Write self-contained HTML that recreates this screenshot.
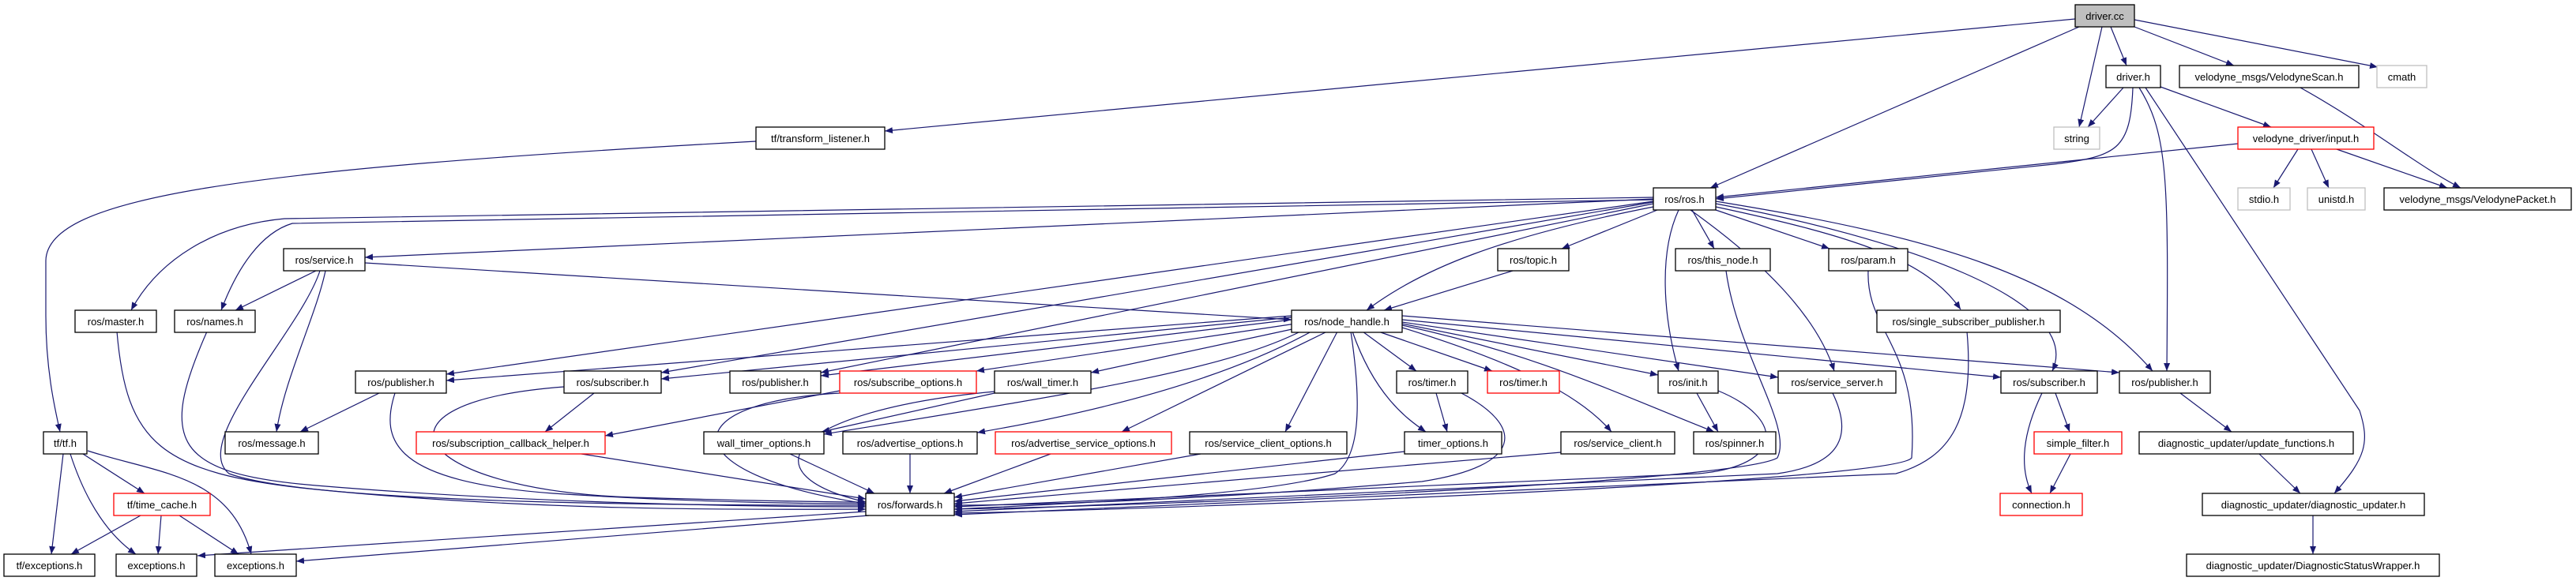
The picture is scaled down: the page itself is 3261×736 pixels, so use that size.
<!DOCTYPE html>
<html><head><meta charset="utf-8"><style>
html,body{margin:0;padding:0;background:#fff;}
svg{display:block;}
text{font-family:"Liberation Sans",sans-serif;font-size:13px;fill:#000;}
.e{fill:none;stroke:#191970;stroke-width:1.2;marker-end:url(#a);}
.n{fill:#fff;stroke:#000;stroke-width:1.3;}
.r{fill:#fff;stroke:#ff0000;stroke-width:1.3;}
.g{fill:#fff;stroke:#bfbfbf;stroke-width:1.3;}
</style></head><body>
<svg width="3261" height="736" viewBox="0 0 3261 736" xmlns="http://www.w3.org/2000/svg">
<defs><marker id="a" markerWidth="10" markerHeight="8" refX="10" refY="4" orient="auto" markerUnits="userSpaceOnUse"><path d="M0,0 L10,4 L0,8 z" fill="#191970"/></marker></defs>
<g>
<path class="e" d="M2627 24 L1120 166"/>
<path class="e" d="M2632 34 L2165 238"/>
<path class="e" d="M2661 34 L2632 161"/>
<path class="e" d="M2672 34 L2692 83"/>
<path class="e" d="M2702 34 L2828 83"/>
<path class="e" d="M2702 25 L3010 85"/>
<path class="e" d="M2688 111 L2643 161"/>
<path class="e" d="M2700 111 C2697 190 2680 198 2600 208 L2172 252"/>
<path class="e" d="M2735 110 L2875 161"/>
<path class="e" d="M2708 111 C2745 170 2745 230 2743 470"/>
<path class="e" d="M2716 111 L2987 520 C3000 560 2995 580 2955 625"/>
<path class="e" d="M2912 111 C3000 160 3060 210 3115 238"/>
<path class="e" d="M2833 182 L2172 250"/>
<path class="e" d="M2909 189 L2878 238"/>
<path class="e" d="M2926 189 L2948 238"/>
<path class="e" d="M2958 189 L3098 238"/>
<path class="e" d="M957 179 C300 215 60 250 58 330 L58 400 C58 470 70 520 76 547"/>
<path class="e" d="M80 575 L65 702"/>
<path class="e" d="M89 575 C110 640 140 680 172 702"/>
<path class="e" d="M105 575 L183 625"/>
<path class="e" d="M111 571 C200 600 290 600 318 702"/>
<path class="e" d="M178 653 L90 702"/>
<path class="e" d="M204 653 L200 702"/>
<path class="e" d="M227 653 L302 702"/>
<path class="e" d="M1096 648 L250 704"/>
<path class="e" d="M1100 653 L375 711"/>
<path class="e" d="M2093 252 L462 326"/>
<path class="e" d="M2093 250 L360 277 C270 285 200 330 166 393"/>
<path class="e" d="M2093 253 L370 283 C330 295 300 340 280 393"/>
<path class="e" d="M2093 255 L565 474"/>
<path class="e" d="M2093 256 L837 472"/>
<path class="e" d="M2093 258 L1039 472"/>
<path class="e" d="M2093 262 C1900 300 1800 340 1730 393"/>
<path class="e" d="M2098 266 L1977 315"/>
<path class="e" d="M2142 266 L2170 315"/>
<path class="e" d="M2125 266 C2100 320 2105 400 2125 470"/>
<path class="e" d="M2140 266 C2230 330 2300 400 2322 470"/>
<path class="e" d="M2172 266 L2316 315"/>
<path class="e" d="M2172 262 C2350 300 2440 330 2482 392"/>
<path class="e" d="M2172 258 C2400 300 2640 380 2598 470"/>
<path class="e" d="M2172 255 C2450 300 2620 350 2725 470"/>
<path class="e" d="M400 343 L298 393"/>
<path class="e" d="M412 343 C400 400 360 480 350 547"/>
<path class="e" d="M405 343 C380 420 240 560 290 600 C400 640 900 640 1096 640"/>
<path class="e" d="M462 333 L1635 405"/>
<path class="e" d="M148 420 C160 560 200 600 400 620 C700 650 1000 645 1096 645"/>
<path class="e" d="M262 420 C200 560 220 600 400 615 C700 640 1000 642 1096 642"/>
<path class="e" d="M1915 343 L1752 393"/>
<path class="e" d="M480 498 L380 547"/>
<path class="e" d="M500 498 C480 560 500 610 700 625 C900 638 1050 638 1096 638"/>
<path class="e" d="M752 498 L690 547"/>
<path class="e" d="M714 490 C450 510 520 620 800 630 C1000 636 1096 636 1096 636"/>
<path class="e" d="M736 575 L1096 632"/>
<path class="e" d="M1635 400 L565 482"/>
<path class="e" d="M1635 402 L837 480"/>
<path class="e" d="M1635 405 L1039 476"/>
<path class="e" d="M1640 410 L1236 470"/>
<path class="e" d="M1645 415 L1381 472"/>
<path class="e" d="M1650 418 C1550 470 1350 500 1043 550"/>
<path class="e" d="M1660 420 C1550 480 1400 520 1237 548"/>
<path class="e" d="M1680 420 L1420 547"/>
<path class="e" d="M1693 420 L1627 547"/>
<path class="e" d="M1710 420 C1725 520 1720 580 1690 600 C1600 630 1300 640 1208 645"/>
<path class="e" d="M1725 420 L1793 470"/>
<path class="e" d="M1745 420 L1889 470"/>
<path class="e" d="M1712 420 C1740 500 1780 530 1805 547"/>
<path class="e" d="M1775 415 C1920 460 2000 500 2040 547"/>
<path class="e" d="M1775 412 C1950 450 2050 500 2170 547"/>
<path class="e" d="M1775 410 L2099 475"/>
<path class="e" d="M1775 408 L2251 478"/>
<path class="e" d="M1775 405 L2533 478"/>
<path class="e" d="M1775 400 L2683 472"/>
<path class="e" d="M1063 495 L766 552"/>
<path class="e" d="M1063 498 C850 510 850 600 1096 638"/>
<path class="e" d="M1259 498 L1040 547"/>
<path class="e" d="M1259 496 C1000 520 940 600 1096 636"/>
<path class="e" d="M1000 575 L1107 625"/>
<path class="e" d="M1152 575 L1152 625"/>
<path class="e" d="M1330 575 L1195 625"/>
<path class="e" d="M1520 575 L1208 630"/>
<path class="e" d="M1818 498 L1832 547"/>
<path class="e" d="M1850 498 C1930 540 1930 590 1800 610 C1500 635 1300 640 1208 640"/>
<path class="e" d="M1778 572 L1208 635"/>
<path class="e" d="M1976 573 L1208 638"/>
<path class="e" d="M2148 498 L2175 547"/>
<path class="e" d="M2175 495 C2260 530 2260 590 2150 600 L1208 642"/>
<path class="e" d="M2185 343 C2200 450 2270 540 2250 580 C2200 610 1500 640 1208 645"/>
<path class="e" d="M2320 498 C2350 560 2320 590 2250 600 L1208 648"/>
<path class="e" d="M2365 343 C2362 420 2430 440 2420 580 C2400 610 1500 645 1208 650"/>
<path class="e" d="M2490 420 C2500 530 2470 580 2400 600 L1208 652"/>
<path class="e" d="M2602 498 L2620 547"/>
<path class="e" d="M2585 498 C2555 560 2560 600 2572 625"/>
<path class="e" d="M2621 575 L2595 625"/>
<path class="e" d="M2760 498 L2825 547"/>
<path class="e" d="M2860 575 L2912 625"/>
<path class="e" d="M2928 653 L2928 702"/>
</g>
<g>
<rect x="2627" y="6" width="75" height="28" fill="#bfbfbf" stroke="#000" stroke-width="1.3"/><text x="2664.5" y="25" text-anchor="middle">driver.cc</text>
<rect class="n" x="2666" y="83" width="69" height="28"/><text x="2700.5" y="102" text-anchor="middle">driver.h</text>
<rect class="n" x="2759" y="83" width="227" height="28"/><text x="2872.5" y="102" text-anchor="middle">velodyne_msgs/VelodyneScan.h</text>
<rect class="g" x="3009" y="83" width="63" height="28"/><text x="3040.5" y="102" text-anchor="middle">cmath</text>
<rect class="n" x="957" y="161" width="163" height="28"/><text x="1038.5" y="180" text-anchor="middle">tf/transform_listener.h</text>
<rect class="g" x="2600" y="161" width="58" height="28"/><text x="2629" y="180" text-anchor="middle">string</text>
<rect class="r" x="2833" y="161" width="172" height="28"/><text x="2919" y="180" text-anchor="middle">velodyne_driver/input.h</text>
<rect class="n" x="2093" y="238" width="79" height="28"/><text x="2132.5" y="257" text-anchor="middle">ros/ros.h</text>
<rect class="g" x="2833" y="238" width="66" height="28"/><text x="2866" y="257" text-anchor="middle">stdio.h</text>
<rect class="g" x="2921" y="238" width="73" height="28"/><text x="2957.5" y="257" text-anchor="middle">unistd.h</text>
<rect class="n" x="3018" y="238" width="237" height="28"/><text x="3136.5" y="257" text-anchor="middle">velodyne_msgs/VelodynePacket.h</text>
<rect class="n" x="359" y="315" width="103" height="28"/><text x="410.5" y="334" text-anchor="middle">ros/service.h</text>
<rect class="n" x="1896" y="315" width="90" height="28"/><text x="1941" y="334" text-anchor="middle">ros/topic.h</text>
<rect class="n" x="2121" y="315" width="120" height="28"/><text x="2181" y="334" text-anchor="middle">ros/this_node.h</text>
<rect class="n" x="2315" y="315" width="100" height="28"/><text x="2365" y="334" text-anchor="middle">ros/param.h</text>
<rect class="n" x="95" y="393" width="103" height="28"/><text x="146.5" y="412" text-anchor="middle">ros/master.h</text>
<rect class="n" x="221" y="393" width="102" height="28"/><text x="272" y="412" text-anchor="middle">ros/names.h</text>
<rect class="n" x="1635" y="393" width="140" height="28"/><text x="1705" y="412" text-anchor="middle">ros/node_handle.h</text>
<rect class="n" x="2376" y="393" width="232" height="28"/><text x="2492" y="412" text-anchor="middle">ros/single_subscriber_publisher.h</text>
<rect class="n" x="450" y="470" width="115" height="28"/><text x="507.5" y="489" text-anchor="middle">ros/publisher.h</text>
<rect class="n" x="714" y="470" width="123" height="28"/><text x="775.5" y="489" text-anchor="middle">ros/subscriber.h</text>
<rect class="n" x="924" y="470" width="115" height="28"/><text x="981.5" y="489" text-anchor="middle">ros/publisher.h</text>
<rect class="r" x="1063" y="470" width="173" height="28"/><text x="1149.5" y="489" text-anchor="middle">ros/subscribe_options.h</text>
<rect class="n" x="1259" y="470" width="122" height="28"/><text x="1320" y="489" text-anchor="middle">ros/wall_timer.h</text>
<rect class="n" x="1768" y="470" width="90" height="28"/><text x="1813" y="489" text-anchor="middle">ros/timer.h</text>
<rect class="r" x="1883" y="470" width="91" height="28"/><text x="1928.5" y="489" text-anchor="middle">ros/timer.h</text>
<rect class="n" x="2099" y="470" width="76" height="28"/><text x="2137" y="489" text-anchor="middle">ros/init.h</text>
<rect class="n" x="2251" y="470" width="149" height="28"/><text x="2325.5" y="489" text-anchor="middle">ros/service_server.h</text>
<rect class="n" x="2533" y="470" width="122" height="28"/><text x="2594" y="489" text-anchor="middle">ros/subscriber.h</text>
<rect class="n" x="2683" y="470" width="115" height="28"/><text x="2740.5" y="489" text-anchor="middle">ros/publisher.h</text>
<rect class="n" x="55" y="547" width="55" height="28"/><text x="82.5" y="566" text-anchor="middle">tf/tf.h</text>
<rect class="n" x="285" y="547" width="118" height="28"/><text x="344" y="566" text-anchor="middle">ros/message.h</text>
<rect class="r" x="527" y="547" width="239" height="28"/><text x="646.5" y="566" text-anchor="middle">ros/subscription_callback_helper.h</text>
<rect class="n" x="891" y="547" width="152" height="28"/><text x="967" y="566" text-anchor="middle">wall_timer_options.h</text>
<rect class="n" x="1067" y="547" width="170" height="28"/><text x="1152" y="566" text-anchor="middle">ros/advertise_options.h</text>
<rect class="r" x="1260" y="547" width="223" height="28"/><text x="1371.5" y="566" text-anchor="middle">ros/advertise_service_options.h</text>
<rect class="n" x="1506" y="547" width="199" height="28"/><text x="1605.5" y="566" text-anchor="middle">ros/service_client_options.h</text>
<rect class="n" x="1778" y="547" width="123" height="28"/><text x="1839.5" y="566" text-anchor="middle">timer_options.h</text>
<rect class="n" x="1976" y="547" width="144" height="28"/><text x="2048" y="566" text-anchor="middle">ros/service_client.h</text>
<rect class="n" x="2144" y="547" width="104" height="28"/><text x="2196" y="566" text-anchor="middle">ros/spinner.h</text>
<rect class="r" x="2575" y="547" width="111" height="28"/><text x="2630.5" y="566" text-anchor="middle">simple_filter.h</text>
<rect class="n" x="2708" y="547" width="271" height="28"/><text x="2843.5" y="566" text-anchor="middle">diagnostic_updater/update_functions.h</text>
<rect class="r" x="144" y="625" width="122" height="28"/><text x="205" y="644" text-anchor="middle">tf/time_cache.h</text>
<rect class="n" x="1096" y="625" width="112" height="28"/><text x="1152" y="644" text-anchor="middle">ros/forwards.h</text>
<rect class="r" x="2532" y="625" width="104" height="28"/><text x="2584" y="644" text-anchor="middle">connection.h</text>
<rect class="n" x="2788" y="625" width="281" height="28"/><text x="2928.5" y="644" text-anchor="middle">diagnostic_updater/diagnostic_updater.h</text>
<rect class="n" x="5" y="702" width="115" height="28"/><text x="62.5" y="721" text-anchor="middle">tf/exceptions.h</text>
<rect class="n" x="147" y="702" width="102" height="28"/><text x="198" y="721" text-anchor="middle">exceptions.h</text>
<rect class="n" x="272" y="702" width="103" height="28"/><text x="323.5" y="721" text-anchor="middle">exceptions.h</text>
<rect class="n" x="2768" y="702" width="320" height="28"/><text x="2928" y="721" text-anchor="middle">diagnostic_updater/DiagnosticStatusWrapper.h</text>
</g>
</svg>
</body></html>
